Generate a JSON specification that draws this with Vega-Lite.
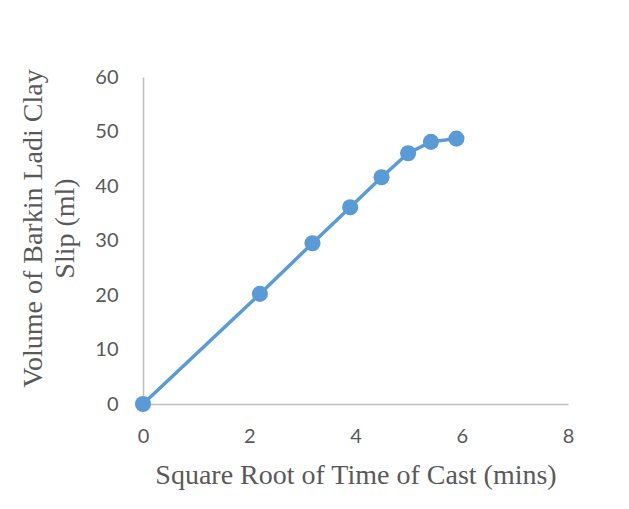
{
  "$schema": "https://vega.github.io/schema/vega-lite/v6.json",
  "width": 425,
  "height": 327,
  "autosize": {"type": "none"},
  "padding": {"left": 143, "top": 77, "right": 61, "bottom": 105},
  "background": "white",
  "config": {"view": {"stroke": null}},
  "data": {"values": [
    {"x": 0, "y": 0},
    {"x": 2.2, "y": 20.2},
    {"x": 3.19, "y": 29.5},
    {"x": 3.9, "y": 36.1},
    {"x": 4.49, "y": 41.6},
    {"x": 4.99, "y": 46.0},
    {"x": 5.42, "y": 48.1},
    {"x": 5.9, "y": 48.7}
  ]},
  "encoding": {
    "x": {"field": "x", "type": "quantitative",
      "scale": {"domain": [0, 8], "nice": false, "zero": true},
      "axis": {"title": "Square Root of Time of Cast (mins)", "values": [0, 2, 4, 6, 8], "grid": false, "ticks": false,
        "domainColor": "#BFBFBF", "domainWidth": 1.5, "labelFont": "Lato", "labelFontSize": 20, "labelColor": "#595959",
        "labelPadding": 22, "labelFlush": false,
        "titleFont": "Liberation Serif", "titleFontSize": 28, "titleFontWeight": "normal", "titleColor": "#595959", "titlePadding": 15}},
    "y": {"field": "y", "type": "quantitative",
      "scale": {"domain": [0, 60], "nice": false},
      "axis": {"title": ["Volume of Barkin Ladi Clay", "Slip (ml)"], "values": [0, 10, 20, 30, 40, 50, 60], "grid": false, "ticks": false,
        "domainColor": "#BFBFBF", "domainWidth": 1.5, "labelFont": "Lato", "labelFontSize": 20, "labelColor": "#595959",
        "labelPadding": 25, "labelFlush": false,
        "titleFont": "Liberation Serif", "titleFontSize": 28, "titleFontWeight": "normal", "titleColor": "#595959",
        "titleLineHeight": 32, "titleX": -124, "titleY": 151, "titleAlign": "center", "titleBaseline": "top", "titleAngle": -90}}
  },
  "layer": [
    {"mark": {"type": "line", "color": "#5B9BD5", "strokeWidth": 3.5}},
    {"mark": {"type": "point", "filled": true, "color": "#5B9BD5", "size": 260, "opacity": 1}}
  ]
}
